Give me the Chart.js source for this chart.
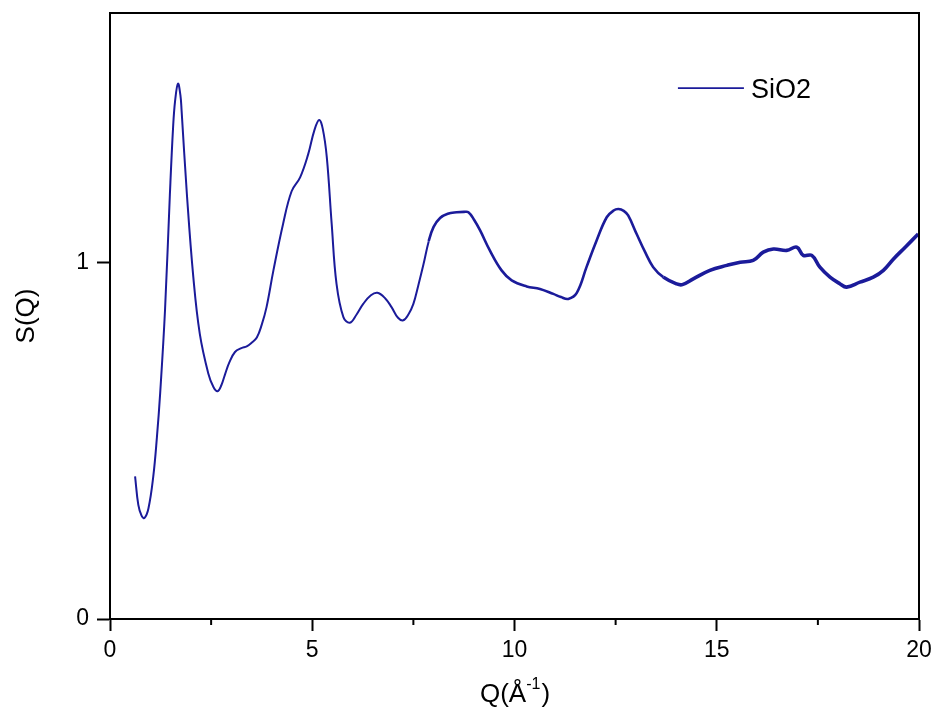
<!DOCTYPE html>
<html>
<head>
<meta charset="utf-8">
<script src="https://cdn.jsdelivr.net/npm/chart.js@4.4.1/dist/chart.umd.min.js"></script>
<style>
  body { margin: 0; background: #fff; }
  #wrap { width: 936px; height: 707px; position: relative; }
</style>
</head>
<body>
<div id="wrap"><canvas id="sq"></canvas></div>
<script>
// values
const qValues = [
  0.62, 0.70, 0.78, 0.85, 0.95, 1.07, 1.16, 1.24, 1.36, 1.48, 1.56, 1.61, 1.68, 1.74, 1.77,
  1.90, 2.06, 2.22, 2.43, 2.56, 2.66, 2.75, 2.84, 2.95, 3.09, 3.25, 3.38, 3.50, 3.63, 3.75,
  3.87, 4.04, 4.28, 4.49, 4.70, 4.90, 5.05, 5.17, 5.26, 5.36, 5.48, 5.60, 5.77, 5.93, 6.10,
  6.26, 6.45, 6.61, 6.80, 6.96, 7.12, 7.25, 7.38, 7.50, 7.62, 7.75, 7.88, 8.00, 8.16, 8.35,
  8.57, 8.75, 8.86, 9.00, 9.15, 9.39, 9.68, 9.93, 10.30, 10.63, 10.96, 11.15, 11.33, 11.54, 11.78,
  12.03, 12.28, 12.45, 12.57, 12.70, 12.81, 13.02, 13.23, 13.43, 13.68, 14.01, 14.15, 14.42, 14.83, 15.25,
  15.58, 15.90, 16.15, 16.40, 16.73, 16.98, 17.14, 17.35, 17.55, 17.80, 18.05, 18.21, 18.54, 18.87, 19.12,
  19.37, 19.66, 19.98
];
const sqValues = [
  0.40, 0.32, 0.29, 0.283, 0.31, 0.40, 0.51, 0.633, 0.866, 1.19, 1.38, 1.454, 1.502, 1.47, 1.426,
  1.193, 0.959, 0.80, 0.689, 0.65, 0.639, 0.655, 0.685, 0.72, 0.749, 0.760, 0.765, 0.775, 0.79, 0.825,
  0.875, 0.978, 1.109, 1.20, 1.239, 1.304, 1.37, 1.40, 1.375, 1.295, 1.109, 0.94, 0.847, 0.831, 0.855,
  0.884, 0.908, 0.915, 0.90, 0.875, 0.845, 0.838, 0.855, 0.884, 0.935, 0.995, 1.06, 1.10, 1.125, 1.137,
  1.141, 1.142, 1.141, 1.12, 1.09, 1.034, 0.978, 0.95, 0.933, 0.926, 0.912, 0.903, 0.898, 0.915, 0.987,
  1.062, 1.127, 1.146, 1.150, 1.145, 1.132, 1.080, 1.029, 0.987, 0.959, 0.940, 0.938, 0.954, 0.978, 0.992,
  1.001, 1.006, 1.029, 1.038, 1.034, 1.043, 1.020, 1.020, 0.987, 0.959, 0.940, 0.931, 0.945, 0.959, 0.978,
  1.010, 1.043, 1.080
];
const seriesLabel = "SiO2";
const xMajorTicks = [0, 5, 10, 15, 20];
const yTickValues = [0, 1];

const lineColor = "#1b1b9a";
const fontFamily = '"Liberation Sans", Arial, sans-serif';

const points = qValues.map((q, i) => ({ x: q, y: sqValues[i] }));

// frame, minor ticks, legend and the x title with superscript
const extras = {
  id: "extras",
  afterDraw(chart) {
    const { ctx, chartArea: a } = chart;
    const xs = chart.scales.x;
    ctx.save();
    ctx.strokeStyle = "#000";
    ctx.lineWidth = 2;
    ctx.strokeRect(a.left, a.top, a.right - a.left, a.bottom - a.top);

    // minor ticks
    xs.ticks.forEach(t => {
      if (xMajorTicks.includes(t.value)) return;
      const px = xs.getPixelForValue(t.value);
      ctx.beginPath();
      ctx.moveTo(px, a.bottom);
      ctx.lineTo(px, a.bottom + 6);
      ctx.stroke();
    });

    // legend
    const w = a.right - a.left, h = a.bottom - a.top;
    const lx = a.left + w * 0.702, ly = a.top + h * 0.124;
    ctx.strokeStyle = lineColor;
    ctx.lineWidth = 1.6;
    ctx.beginPath();
    ctx.moveTo(lx, ly);
    ctx.lineTo(lx + 66, ly);
    ctx.stroke();
    ctx.fillStyle = "#000";
    ctx.font = "27px " + fontFamily;
    ctx.textBaseline = "alphabetic";
    ctx.fillText(seriesLabel, lx + 73, ly + 10);

    // x title: Q(Å^-1)
    const big = "26px " + fontFamily, small = "16px " + fontFamily;
    ctx.font = big;
    const w1 = ctx.measureText("Q(Å").width;
    const w3 = ctx.measureText(")").width;
    ctx.font = small;
    const w2 = ctx.measureText("-1").width;
    let tx = (a.left + a.right) / 2 - (w1 + w2 + w3) / 2;
    const by = 702;
    ctx.font = big;
    ctx.fillText("Q(Å", tx, by);
    tx += w1;
    ctx.font = small;
    ctx.fillText("-1", tx, by - 13);
    tx += w2 + 1;
    ctx.font = big;
    ctx.fillText(")", tx, by);
    ctx.restore();
  }
};

new Chart(document.getElementById("sq"), {
  type: "line",
  data: {
    datasets: [{
      label: seriesLabel,
      data: points,
      borderColor: lineColor,
      borderWidth: 2,
      pointRadius: 0,
      fill: false,
      tension: 0.4,
      segment: {
        // the measured curve gets noisier at high Q, drawn as a thicker band
        borderWidth: ctx => {
          const q = ctx.p0.parsed.x;
          if (q > 13.6) return 3.6;
          if (q > 7.8) return 2.6;
          return 2;
        }
      }
    }]
  },
  options: {
    responsive: true,
    maintainAspectRatio: false,
    animation: false,
    layout: { autoPadding: false, padding: { top: 13, right: 17, left: 0, bottom: 0 } },
    plugins: {
      legend: { display: false },
      tooltip: { enabled: false }
    },
    scales: {
      x: {
        type: "linear",
        min: 0,
        max: 20,
        afterFit: s => {
          s.height = 88;
          s.paddingLeft = 0;
          s.paddingRight = 0;
        },
        ticks: {
          stepSize: 2.5,
          padding: 6,
          color: "#000",
          font: { family: fontFamily, size: 23 },
          maxRotation: 0,
          callback: v => (xMajorTicks.includes(v) ? String(v) : "")
        },
        grid: {
          drawOnChartArea: false,
          drawTicks: true,
          tickLength: 12,
          tickWidth: 2,
          tickColor: c => (xMajorTicks.includes(c.tick.value) ? "#000" : "rgba(0,0,0,0)")
        },
        border: { display: true, color: "#000", width: 2 }
      },
      y: {
        min: 0,
        max: 1.7,
        afterFit: s => {
          s.width = 110;
          s.paddingTop = 0;
          s.paddingBottom = 0;
        },
        afterBuildTicks: s => { s.ticks = yTickValues.map(v => ({ value: v })); },
        ticks: {
          padding: 8,
          color: "#000",
          font: { family: fontFamily, size: 23 },
          callback: v => String(v)
        },
        grid: {
          drawOnChartArea: false,
          drawTicks: true,
          tickLength: 13,
          tickWidth: 2,
          tickColor: "#000"
        },
        border: { display: true, color: "#000", width: 2 },
        title: {
          display: true,
          text: "S(Q)",
          color: "#000",
          font: { family: fontFamily, size: 26 },
          padding: { top: 11, bottom: 0 }
        }
      }
    }
  },
  plugins: [extras]
});
</script>
</body>
</html>
